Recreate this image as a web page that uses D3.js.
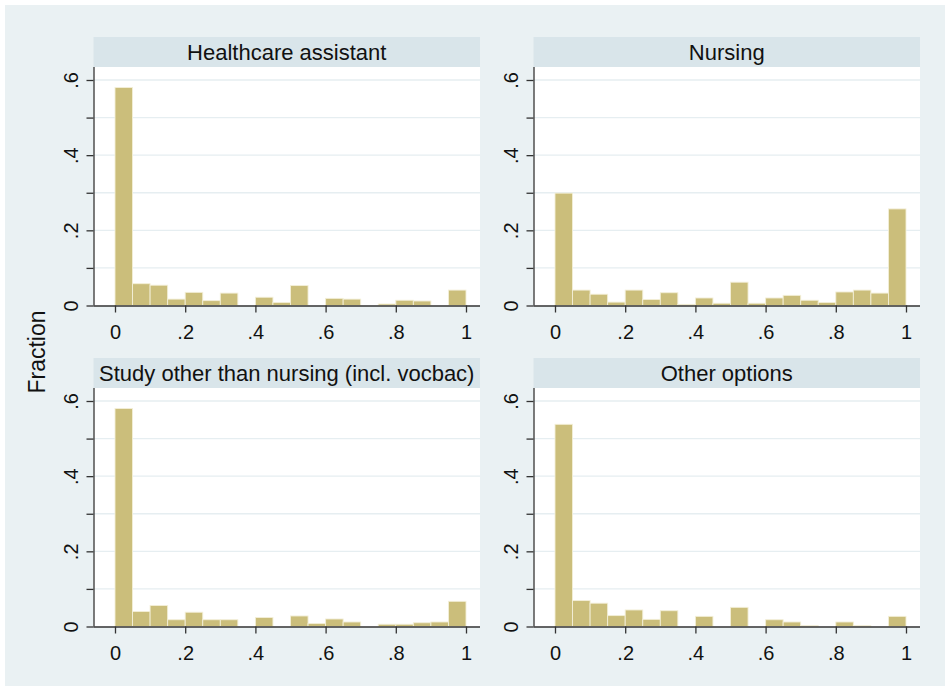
<!DOCTYPE html>
<html>
<head>
<meta charset="utf-8">
<script src="https://cdn.jsdelivr.net/npm/d3@7"></script>
<style>
  body { margin: 0; background: #fff; }
  svg { display: block; font-family: "Liberation Sans", Arial, sans-serif; }
</style>
</head>
<body>
<div id="chart"></div>
<script>
// ━━━━━━━━━━━━━━━━━━━━━━━━━━━━━━━━━━━━━━━━━━━━━━━━━━━━━━━━━━━━━━━━━━━━━━━━━━━
// Data ///////////////////////////////////////////////////////////////////////
// ━━━━━━━━━━━━━━━━━━━━━━━━━━━━━━━━━━━━━━━━━━━━━━━━━━━━━━━━━━━━━━━━━━━━━━━━━━━

const panelTitles = ['Healthcare assistant', 'Nursing', 'Study other than nursing (incl. vocbac)', 'Other options'];

// left edge of each histogram bin (width .05)
const binLefts = [0, .05, .10, .15, .20, .25, .30, .35, .40, .45, .50, .55, .60, .65, .70, .75, .80, .85, .90, .95];
const binWidth = 0.05;

const healthcare = [.580, .058, .054, .017, .035, .013, .033, 0, .022, .008, .053, 0, .019, .017, 0, .004, .014, .012, 0, .041];
const nursing    = [.299, .041, .030, .009, .041, .016, .034, .003, .020, .006, .062, .006, .020, .027, .014, .008, .036, .041, .033, .257];
const study      = [.580, .040, .056, .018, .038, .018, .018, 0, .024, 0, .028, .008, .020, .012, 0, .006, .006, .010, .012, .067];
const other      = [.538, .069, .062, .029, .044, .019, .042, 0, .027, 0, .051, 0, .018, .012, .002, 0, .012, .002, 0, .027];

const xTicks = [0, .2, .4, .6, .8, 1];
const yTicks = [0, .1, .2, .3, .4, .5, .6];
const yLabelled = [0, .2, .4, .6];
const yTitle = 'Fraction';

// ━━━━━━━━━━━━━━━━━━━━━━━━━━━━━━━━━━━━━━━━━━━━━━━━━━━━━━━━━━━━━━━━━━━━━━━━━━━
// Setup //////////////////////////////////////////////////////////////////////
// ━━━━━━━━━━━━━━━━━━━━━━━━━━━━━━━━━━━━━━━━━━━━━━━━━━━━━━━━━━━━━━━━━━━━━━━━━━━

const width = 950;
const height = 691;

const svg = d3.select('#chart').append('svg')
  .attr('width', width)
  .attr('height', height)
  .attr('viewBox', [0, 0, width, height]);

svg.append('rect').attr('x', 5).attr('y', 5)
  .attr('width', width - 10).attr('height', height - 10)
  .attr('fill', '#eaf1f3');

const series = [healthcare, nursing, study, other];
const colLeft = [93.5, 533.5];
const rowTop = [37, 358];
const panelW = 386.5;
const headerH = 30;
const plotH = 238.5;

const fmt = d => d === 0 ? '0' : String(+d.toFixed(1)).replace(/^0\./, '.');

series.forEach((vals, i) => {
  const left = colLeft[i % 2];
  const top = rowTop[Math.floor(i / 2)];
  const plotTop = top + headerH;
  const bottom = plotTop + plotH;

  const x = d3.scaleLinear().domain([0, 1]).range([left + 21.5, left + 372.5]);
  const y = d3.scaleLinear().domain([0, 0.6]).range([bottom, bottom - 225.5]);

  const g = svg.append('g').attr('class', 'panel');

  // header strip
  g.append('rect')
    .attr('x', left).attr('y', top)
    .attr('width', panelW).attr('height', headerH)
    .attr('fill', '#d9e5ea');
  g.append('text')
    .attr('x', left + panelW / 2).attr('y', top + headerH / 2 + 7.5)
    .attr('text-anchor', 'middle')
    .attr('font-size', 22)
    .attr('fill', '#111')
    .text(panelTitles[i]);

  // plot region
  g.append('rect')
    .attr('x', left).attr('y', plotTop)
    .attr('width', panelW).attr('height', plotH)
    .attr('fill', '#fff');

  // grid
  g.append('g').selectAll('line')
    .data(yTicks.filter(d => d > 0))
    .join('line')
    .attr('x1', left).attr('x2', left + panelW)
    .attr('y1', d => y(d)).attr('y2', d => y(d))
    .attr('stroke', '#e6eef1')
    .attr('stroke-width', 1.3);

  // bars
  g.append('g').selectAll('rect')
    .data(binLefts.map((b, j) => ({ b, v: vals[j] })).filter(d => d.v > 0))
    .join('rect')
    .attr('x', d => x(d.b))
    .attr('y', d => y(d.v))
    .attr('width', d => x(d.b + binWidth) - x(d.b))
    .attr('height', d => y(0) - y(d.v))
    .attr('fill', '#cbbe7b')
    .attr('stroke', '#f3efd8')
    .attr('stroke-width', 0.9);

  // x axis
  const xAxis = g.append('g')
    .attr('transform', `translate(0,${bottom})`)
    .call(d3.axisBottom(x).tickValues(xTicks).tickSize(7).tickSizeOuter(0).tickFormat(fmt));
  xAxis.select('.domain').attr('d', `M${left},0.5H${left + panelW}`);

  // y axis
  const yAxis = g.append('g')
    .attr('transform', `translate(${left},0)`)
    .call(d3.axisLeft(y).tickValues(yTicks).tickSize(7).tickSizeOuter(0)
      .tickFormat(d => yLabelled.some(v => Math.abs(v - d) < 1e-9) ? fmt(d) : ''));
  yAxis.select('.domain').attr('d', `M0.5,${plotTop}V${bottom}`);
  yAxis.selectAll('.tick text')
    .attr('x', null).attr('dy', null)
    .attr('text-anchor', 'middle')
    .attr('transform', 'translate(-16,0) rotate(-90)');

  [xAxis, yAxis].forEach(a => {
    a.attr('font-family', null).attr('font-size', 20);
    a.selectAll('.domain, .tick line').attr('stroke', '#333').attr('stroke-width', 1.3);
    a.selectAll('.tick text').attr('fill', '#111');
  });
  xAxis.selectAll('.tick text').attr('y', 33).attr('dy', null);
});

// y title
svg.append('text')
  .attr('transform', 'translate(45,352) rotate(-90)')
  .attr('text-anchor', 'middle')
  .attr('font-size', 23)
  .attr('fill', '#111')
  .text(yTitle);
</script>
</body>
</html>
